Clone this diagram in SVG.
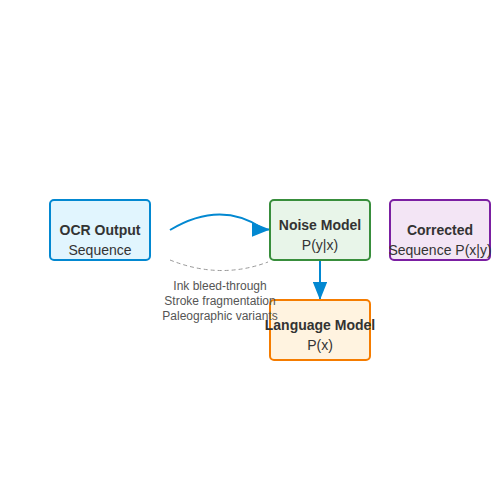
<svg xmlns="http://www.w3.org/2000/svg" width="500" height="500" viewBox="0 0 500 500">
<defs>
<style>
.box{stroke-width:2}
.t{font-family:"Liberation Sans",Arial,sans-serif;font-size:14px;fill:#333;text-anchor:middle}
.b{font-weight:bold}
.lbl{font-family:"Liberation Sans",Arial,sans-serif;font-size:12px;fill:#555;text-anchor:middle}
</style>
<marker id="ahH" viewBox="0 0 10 8" refX="10" refY="4" markerWidth="18" markerHeight="14.4" orient="0" markerUnits="userSpaceOnUse">
<path d="M0,0 L10,4 L0,8 Z" fill="#0288D1"/>
</marker>
<marker id="ah" viewBox="0 0 10 8" refX="10" refY="4" markerWidth="18" markerHeight="14.4" orient="auto" markerUnits="userSpaceOnUse">
<path d="M0,0 L10,4 L0,8 Z" fill="#0288D1"/>
</marker>
</defs>
<rect width="500" height="500" fill="#fff"/>
<g id="connectors">
<path d="M170,230 Q220,200 262,228" fill="none" stroke="#0288D1" stroke-width="2"/>
<path d="M262,229.5 L270,229.5" fill="none" stroke="#0288D1" stroke-width="2" marker-end="url(#ahH)"/>
<path d="M170,260 Q220,280 268,262" fill="none" stroke="#999" stroke-width="1" stroke-dasharray="4,3"/>
<path d="M320,260 L320,300" fill="none" stroke="#0288D1" stroke-width="2" marker-end="url(#ah)"/>
</g>
<g id="ocr">
<rect class="box" x="50" y="200" width="100" height="60" rx="4" fill="#E1F5FE" stroke="#0288D1"/>
<text class="t b" x="100" y="235">OCR Output</text>
<text class="t" x="100" y="255">Sequence</text>
</g>
<g id="noise">
<rect class="box" x="270" y="200" width="100" height="60" rx="4" fill="#E8F5E9" stroke="#388E3C"/>
<text class="t b" x="320" y="230">Noise Model</text>
<text class="t" x="320" y="250">P(y|x)</text>
</g>
<g id="corrected">
<rect class="box" x="390" y="200" width="100" height="60" rx="4" fill="#F3E5F5" stroke="#7B1FA2"/>
<text class="t b" x="440" y="235">Corrected</text>
<text class="t" x="440" y="255">Sequence P(x|y)</text>
</g>
<g id="language">
<rect class="box" x="270" y="300" width="100" height="60" rx="4" fill="#FFF3E0" stroke="#F57C00"/>
<text class="t b" x="320" y="330">Language Model</text>
<text class="t" x="320" y="350">P(x)</text>
</g>
<g id="noise-label">
<text class="lbl" x="220" y="290">Ink bleed-through</text>
<text class="lbl" x="220" y="305">Stroke fragmentation</text>
<text class="lbl" x="220" y="320">Paleographic variants</text>
</g>
</svg>
